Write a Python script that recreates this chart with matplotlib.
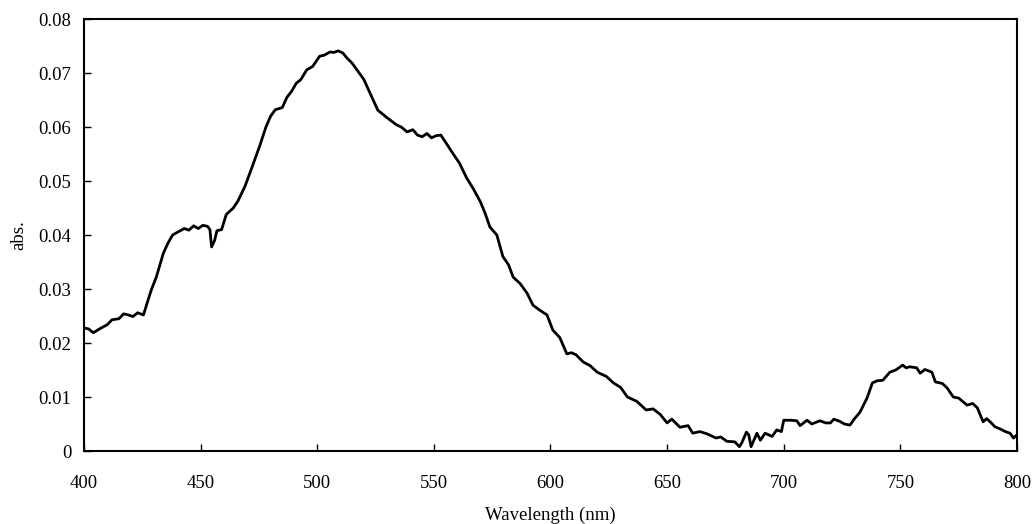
import matplotlib.pyplot as plt

# === DATA, 10 points per line ===
wavelength = [
    398, 400, 402, 404, 407, 410, 412, 415, 417, 419,
    421, 423, 425.5, 427.5, 429, 431, 434, 436, 438, 440,
    443, 445, 447, 449, 451, 453, 454, 454.7, 456, 457,
    459, 461, 464, 466, 469, 472, 475.5, 478, 480, 482,
    485, 487, 489, 491, 493, 495.5, 498, 501, 503, 505.5,
    507, 509, 511, 512.7, 515, 518, 520, 522.6, 526, 530,
    534, 536, 538.5, 541, 543, 545, 547, 549, 551, 553,
    555, 558, 561, 564, 567, 570, 572, 574, 577, 579.6,
    582, 584, 587, 590, 592.5, 595, 598.5, 601, 604, 607,
    609, 611, 614, 617, 620, 624, 627, 630, 633, 637,
    641, 644, 647, 650, 652, 655.5, 659, 661, 664, 667,
    671, 673, 675.6, 679, 681, 682, 684, 685, 686, 688.5,
    690, 692, 695, 697, 699, 700, 703, 705.6, 707, 710,
    712, 715.5, 718, 720, 721.5, 724, 726, 728.4, 730, 732.7,
    735.7, 738, 740, 742.5, 745.5, 748, 751, 752.5, 754, 757,
    758.5, 760.5, 763.5, 765, 768, 770, 772.7, 775, 778.6, 781,
    783, 785.5, 787, 789, 790.5, 792.7, 795, 797, 798.5, 800,
]
absorbance = [
    0.0227, 0.0228, 0.0226, 0.0219, 0.0227, 0.0234, 0.0243, 0.0245, 0.0254, 0.0252,
    0.0249, 0.0256, 0.0252, 0.0280, 0.0300, 0.0322, 0.0366, 0.0385, 0.0400, 0.0405,
    0.0412, 0.0409, 0.0417, 0.0412, 0.0418, 0.0416, 0.0410, 0.0378, 0.0390, 0.0408,
    0.0410, 0.0438, 0.0450, 0.0463, 0.0490, 0.0525, 0.0567, 0.0600, 0.0620, 0.0632,
    0.0636, 0.0655, 0.0666, 0.0681, 0.0688, 0.0706, 0.0712, 0.0731, 0.0733, 0.0739,
    0.0738, 0.0741, 0.0737, 0.0728, 0.0718, 0.0700, 0.0688, 0.0663, 0.0631, 0.0617,
    0.0604, 0.0600, 0.0591, 0.0595, 0.0585, 0.0582, 0.0588, 0.0580, 0.0584, 0.0585,
    0.0572, 0.0552, 0.0533, 0.0506, 0.0485, 0.0461, 0.0440, 0.0415, 0.0400, 0.0360,
    0.0345, 0.0322, 0.0310, 0.0292, 0.0270, 0.0262, 0.0252, 0.0224, 0.0210, 0.0180,
    0.0182, 0.0178, 0.0165, 0.0158, 0.0146, 0.0138, 0.0126, 0.0118, 0.0100, 0.0092,
    0.0076, 0.0078, 0.0068, 0.0052, 0.0059, 0.0044, 0.0047, 0.0033, 0.0036, 0.0032,
    0.0024, 0.0026, 0.0018, 0.0017, 0.0008, 0.0015, 0.0035, 0.0030, 0.0008, 0.0033,
    0.0020, 0.0033, 0.0027, 0.0039, 0.0036, 0.0057, 0.0057, 0.0056, 0.0047, 0.0057,
    0.0050, 0.0056, 0.0052, 0.0052, 0.0059, 0.0055, 0.0050, 0.0048, 0.0058, 0.0072,
    0.0098, 0.0126, 0.0130, 0.0131, 0.0146, 0.0150, 0.0159, 0.0154, 0.0156, 0.0154,
    0.0144, 0.0151, 0.0146, 0.0128, 0.0125, 0.0117, 0.0100, 0.0098, 0.0085, 0.0088,
    0.0080, 0.0054, 0.0060, 0.0052, 0.0045, 0.0041, 0.0036, 0.0033, 0.0024, 0.0030,
]

xticks = [400, 450, 500, 550, 600, 650, 700, 750, 800]
yticks = [0, 0.01, 0.02, 0.03, 0.04, 0.05, 0.06, 0.07, 0.08]
ytick_labels = ['0', '0.01', '0.02', '0.03', '0.04', '0.05', '0.06', '0.07', '0.08']

# === PLOT ===
plt.rcParams['font.family'] = ['Liberation Serif', 'DejaVu Serif']
fig = plt.figure(figsize=(10.33, 5.24), dpi=100)
ax = fig.add_axes([0.0813, 0.1393, 0.9032, 0.8244])

ax.plot(wavelength, absorbance, color='black', linewidth=2.0)

ax.set_xlim(400, 800)
ax.set_ylim(0, 0.08)
ax.set_xticks(xticks)
ax.set_yticks(yticks)
ax.set_yticklabels(ytick_labels)
ax.tick_params(direction='in', length=5, width=1, labelsize=13.5)
ax.tick_params(axis='x', pad=17)
ax.tick_params(axis='y', pad=9)

for s in ax.spines.values():
    s.set_linewidth(1.5)

ax.set_xlabel('Wavelength (nm)', fontsize=13.5, labelpad=11)
ax.set_ylabel('abs.', fontsize=13.5, labelpad=8)

fig.savefig('out.png', dpi=100)
